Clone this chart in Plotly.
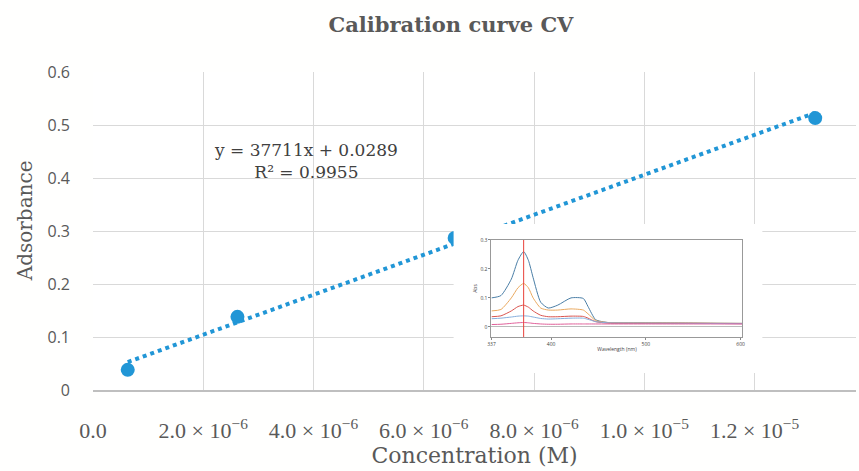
import plotly.graph_objects as go

# ---- main calibration data ----
conc = [0.63e-6, 2.62e-6, 6.56e-6, 13.1e-6]
absorb = [0.038, 0.138, 0.287, 0.513]
trend_slope = 37711
trend_intercept = 0.0289
x_tickvals = [0, 2e-6, 4e-6, 6e-6, 8e-6, 1.0e-5, 1.2e-5]
x_ticktext = ["0.0", "2.0 × 10<sup>−6</sup>", "4.0 × 10<sup>−6</sup>", "6.0 × 10<sup>−6</sup>",
              "8.0 × 10<sup>−6</sup>", "1.0 × 10<sup>−5</sup>", "1.2 × 10<sup>−5</sup>"]
y_tickvals = [0, 0.1, 0.2, 0.3, 0.4, 0.5, 0.6]
y_ticktext = ["0", "0.1", "0.2", "0.3", "0.4", "0.5", "0.6"]

# ---- inset spectra data ----
wavelength = [337, 347, 358, 365, 371, 376, 381, 389, 397, 407, 421, 434, 439, 447, 460, 495, 550, 602]
spec_1 = [0.100, 0.108, 0.165, 0.230, 0.260, 0.230, 0.170, 0.085, 0.065, 0.075, 0.100, 0.098, 0.070, 0.025, 0.015, 0.014, 0.013, 0.012]
spec_2 = [0.055, 0.060, 0.100, 0.135, 0.150, 0.135, 0.100, 0.065, 0.058, 0.058, 0.062, 0.058, 0.045, 0.022, 0.015, 0.014, 0.013, 0.012]
spec_3 = [0.035, 0.038, 0.055, 0.070, 0.075, 0.068, 0.055, 0.040, 0.035, 0.035, 0.037, 0.036, 0.030, 0.018, 0.013, 0.012, 0.012, 0.011]
spec_4 = [0.028, 0.030, 0.034, 0.037, 0.038, 0.037, 0.034, 0.029, 0.027, 0.028, 0.030, 0.030, 0.026, 0.018, 0.014, 0.013, 0.012, 0.011]
spec_5 = [0.008, 0.009, 0.012, 0.014, 0.015, 0.014, 0.012, 0.010, 0.009, 0.009, 0.010, 0.010, 0.010, 0.010, 0.010, 0.010, 0.010, 0.010]
spec_colors = ["#4a7ea6", "#e9a85e", "#d9544f", "#86aedc", "#e0609a"]
marker_wavelength = 371
inset_x_ticks = [337, 400, 500, 600]
inset_y_ticks = [0, 0.1, 0.2, 0.3]

BLUE = "#2196d6"
GRAY = "#595959"
SERIF = "DejaVu Serif, serif"
TIMES = "Liberation Serif, Times New Roman, serif"
SANS = "Open Sans, Arial, sans-serif"

fig = go.Figure()

# trendline
x_tr = [min(conc), max(conc)]
y_tr = [trend_slope * v + trend_intercept for v in x_tr]
fig.add_trace(go.Scatter(x=x_tr, y=y_tr, mode="lines",
                         line=dict(color=BLUE, width=4, dash="4px,4px"),
                         showlegend=False, hoverinfo="skip"))
fig.add_trace(go.Scatter(x=conc, y=absorb, mode="markers",
                         marker=dict(color=BLUE, size=14),
                         showlegend=False))

# white backdrop subplot for inset
fig.add_trace(go.Scatter(x=[None], y=[None], xaxis="x2", yaxis="y2", showlegend=False))

# inset spectra
for s, c in zip([spec_1, spec_2, spec_3, spec_4, spec_5], spec_colors):
    fig.add_trace(go.Scatter(x=wavelength, y=s, mode="lines", xaxis="x3", yaxis="y3",
                             line=dict(color=c, width=1, shape="spline", smoothing=0.6),
                             showlegend=False, hoverinfo="skip"))
fig.add_trace(go.Scatter(x=[marker_wavelength, marker_wavelength], y=[-0.035, 0.3], mode="lines",
                         xaxis="x3", yaxis="y3", line=dict(color="#e8403a", width=1),
                         showlegend=False, hoverinfo="skip"))

fig.update_layout(
    width=859, height=471,
    margin=dict(l=93, r=0, t=72, b=81),
    paper_bgcolor="#fffffe",
    plot_bgcolor="#ffffff",
    title=dict(text="<b>Calibration curve CV</b>", x=0.525, xanchor="center", y=0.948, yanchor="middle",
               font=dict(family=SERIF, size=21, color=GRAY)),
    xaxis=dict(range=[0, 1.384e-5], tickvals=x_tickvals, ticktext=x_ticktext,
               showgrid=True, gridcolor="#d9d9d9", gridwidth=1, zeroline=False,
               showline=True, linecolor="#bfbfbf", linewidth=2, ticks="",
               ticklabelstandoff=20,
               tickfont=dict(family=TIMES, size=22, color=GRAY),
               title=dict(text="Concentration (M)", standoff=0,
                          font=dict(family=SERIF, size=22, color=GRAY))),
    yaxis=dict(range=[0, 0.6], tickvals=y_tickvals, ticktext=y_ticktext,
               showgrid=True, gridcolor="#d9d9d9", gridwidth=1, zeroline=False,
               showline=False, ticks="", ticklabelstandoff=22,
               tickfont=dict(family=SANS, size=16, color=GRAY)),
    xaxis2=dict(domain=[0.4726, 0.8773], anchor="y2", visible=False, range=[0, 1]),
    yaxis2=dict(domain=[0.0535, 0.5220], anchor="x2", visible=False, range=[0, 1]),
    xaxis3=dict(domain=[0.5222, 0.8512], anchor="y3", range=[337, 602],
                tickvals=inset_x_ticks, ticks="outside", ticklen=2, tickcolor="#888",
                showgrid=False, zeroline=False, showline=True, mirror=True,
                linecolor="#999", linewidth=1,
                tickfont=dict(family=SANS, size=5, color="#444"),
                title=dict(text="Wavelength (nm)", standoff=1, font=dict(family=SANS, size=5, color="#444"))),
    yaxis3=dict(domain=[0.1667, 0.4717], anchor="x3", range=[-0.035, 0.3],
                tickvals=inset_y_ticks, ticks="outside", ticklen=2, tickcolor="#888",
                showgrid=False, zeroline=True, zerolinecolor="#bbb", zerolinewidth=0.6,
                showline=True, mirror=True, linecolor="#999", linewidth=1,
                tickfont=dict(family=SANS, size=5, color="#444"),
                title=dict(text="Abs", standoff=2, font=dict(family=SANS, size=5, color="#444"))),
    annotations=[
        dict(text="y = 37711x + 0.0289<br>R² = 0.9955", xref="paper", yref="paper",
             x=(307 - 93) / 766, y=(390 - 161) / 318, xanchor="center", yanchor="middle",
             showarrow=False, align="center",
             font=dict(family=SERIF, size=17, color="#404040")),
        dict(text="Adsorbance", xref="paper", yref="paper",
             x=(25 - 93) / 766, y=(390 - 221) / 318, xanchor="center", yanchor="middle",
             textangle=-90, showarrow=False,
             font=dict(family=SERIF, size=20, color=GRAY)),
    ],
)

fig.write_html("out.html")
